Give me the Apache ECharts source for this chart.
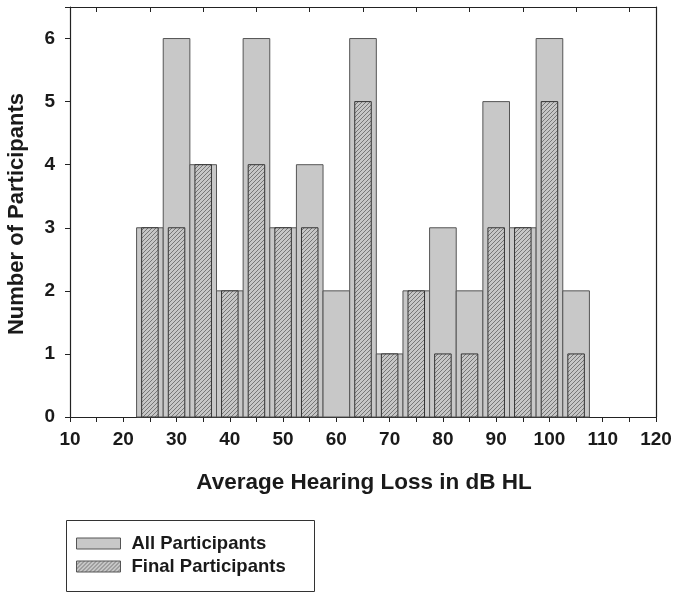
<!DOCTYPE html>
<html>
<head>
<meta charset="utf-8">
<script src="https://cdn.jsdelivr.net/npm/echarts@6/dist/echarts.min.js"></script>
<style>html,body{margin:0;padding:0;background:#fff}#c{width:679px;height:597px}</style>
</head>
<body>
<div id="c"></div>
<script>
var binCenters = [25, 30, 35, 40, 45, 50, 55, 60, 65, 70, 75, 80, 85, 90, 95, 100, 105];
var allParticipants = [3, 6, 4, 2, 6, 3, 4, 2, 6, 1, 2, 3, 2, 5, 3, 6, 2];
var finalParticipants = [3, 3, 4, 2, 4, 3, 3, 0, 5, 1, 2, 1, 1, 3, 3, 5, 1];
var xTicks = [10, 20, 30, 40, 50, 60, 70, 80, 90, 100, 110, 120];
var yTicks = [0, 1, 2, 3, 4, 5, 6];

var FONT = '"Liberation Sans", Arial, sans-serif';

function makeHatch() {
  var c = document.createElement('canvas');
  c.width = 4; c.height = 4;
  var g = c.getContext('2d');
  g.fillStyle = '#c6c6c6';
  g.fillRect(0, 0, 4, 4);
  g.strokeStyle = '#777';
  g.lineWidth = 1;
  g.beginPath();
  g.moveTo(-1, 5); g.lineTo(5, -1);
  g.moveTo(-1, 1); g.lineTo(1, -1);
  g.moveTo(3, 5); g.lineTo(5, 3);
  g.stroke();
  return c;
}
var hatch = {image: makeHatch(), repeat: 'repeat'};

function pairs(vals) {
  return binCenters.map(function (c, i) { return [c, vals[i]]; });
}

function rectItem(halfW, fill, stroke) {
  return function (params, api) {
    var cx = api.value(0), v = api.value(1);
    if (!v) return null;
    var p0 = api.coord([cx - halfW, v]);
    var p1 = api.coord([cx + halfW, 0]);
    return {
      type: 'rect',
      shape: {x: p0[0], y: p0[1], width: p1[0] - p0[0], height: p1[1] - p0[1]},
      style: {fill: fill, stroke: stroke, lineWidth: 1}
    };
  };
}

var chart = echarts.init(document.getElementById('c'), null, {renderer: 'canvas'});
chart.setOption({
  animation: false,
  backgroundColor: '#fff',
  grid: {left: 70, right: 23, top: 7, bottom: 180},
  xAxis: [{
    type: 'value', min: 10, max: 120, interval: 10, position: 'bottom',
    axisLine: {show: true, onZero: false, lineStyle: {color: '#222', width: 1.2}},
    axisTick: {show: true, inside: false, length: 5, lineStyle: {color: '#222'}},
    minorTick: {show: true, splitNumber: 2, length: 5, lineStyle: {color: '#222'}},
    splitLine: {show: false},
    axisLabel: {margin: 13, color: '#1a1a1a', fontFamily: FONT, fontWeight: 'bold', fontSize: 19,
      formatter: function (v) { return xTicks.indexOf(v) >= 0 ? String(v) : ''; }}
  }, {
    type: 'value', min: 10, max: 120, interval: 10, position: 'top',
    axisLine: {show: true, onZero: false, lineStyle: {color: '#222', width: 1.2}},
    axisTick: {show: false, inside: true},
    minorTick: {show: true, splitNumber: 2, length: 5, lineStyle: {color: '#222'}},
    splitLine: {show: false},
    axisLabel: {show: false}
  }],
  yAxis: [{
    type: 'value', min: 0, max: 6.5, interval: 1, position: 'left',
    axisLine: {show: true, onZero: false, lineStyle: {color: '#222', width: 1.2}},
    axisTick: {show: true, inside: false, length: 5, lineStyle: {color: '#222'}},
    splitLine: {show: false},
    axisLabel: {margin: 15, color: '#1a1a1a', fontFamily: FONT, fontWeight: 'bold', fontSize: 19,
      formatter: function (v) { return yTicks.indexOf(v) >= 0 ? String(v) : ''; }}
  }, {
    type: 'value', min: 0, max: 6.5, position: 'right',
    axisLine: {show: true, onZero: false, lineStyle: {color: '#222', width: 1.2}},
    axisTick: {show: false}, splitLine: {show: false}, axisLabel: {show: false}
  }],
  legend: {
    orient: 'vertical', left: 76, top: 534, padding: 0, itemWidth: 44, itemHeight: 11, itemGap: 4,
    icon: 'rect', selectedMode: false,
    textStyle: {color: '#1a1a1a', fontFamily: FONT, fontWeight: 'bold', fontSize: 18.5, lineHeight: 12, padding: [0, 0, 0, 6]},
    data: [
      {name: 'All Participants', itemStyle: {color: '#c8c8c8', borderColor: '#555', borderWidth: 1}},
      {name: 'Final Participants', itemStyle: {color: hatch, borderColor: '#555', borderWidth: 1}}
    ]
  },
  graphic: [
    {type: 'rect', left: 64, top: 518, shape: {width: 248, height: 71},
      style: {fill: 'none', stroke: '#333', lineWidth: 1}, z: 10},
    {type: 'text', x: 364, y: 483, style: {text: 'Average Hearing Loss in dB HL', fill: '#1a1a1a',
      font: 'bold 22.5px ' + FONT, textAlign: 'center', textVerticalAlign: 'middle'}},
    {type: 'text', x: 17, y: 214, rotation: Math.PI / 2, style: {text: 'Number of Participants', fill: '#1a1a1a',
      font: 'bold 22px ' + FONT, textAlign: 'center', textVerticalAlign: 'middle'}}
  ],
  series: [{
    name: 'All Participants', type: 'custom', xAxisIndex: 0, yAxisIndex: 0,
    renderItem: rectItem(2.5, '#c8c8c8', '#555'),
    itemStyle: {color: '#c8c8c8'},
    encode: {x: 0, y: 1},
    data: pairs(allParticipants), z: 2
  }, {
    name: 'Final Participants', type: 'custom', xAxisIndex: 0, yAxisIndex: 0,
    renderItem: rectItem(1.55, hatch, '#333'),
    itemStyle: {color: hatch},
    encode: {x: 0, y: 1},
    data: pairs(finalParticipants), z: 3
  }]
});
</script>
</body>
</html>
